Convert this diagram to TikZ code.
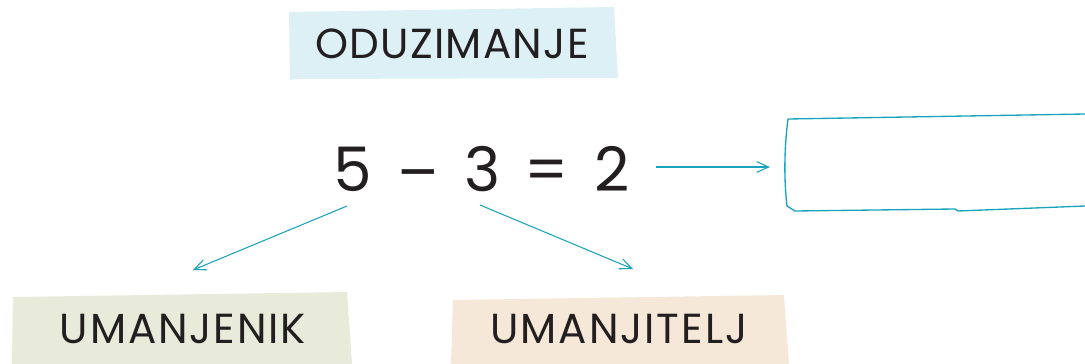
\documentclass[tikz,border=0pt]{standalone}
\usepackage{fontspec}
\setmainfont{Poppins}
\usetikzlibrary{arrows.meta}
\definecolor{tealc}{HTML}{1AA3BC}
\definecolor{blueb}{HTML}{DDF0F6}
\definecolor{greenb}{HTML}{E8EBDA}
\definecolor{peachb}{HTML}{F6E8D8}
\definecolor{ink}{HTML}{231F20}
\begin{document}
\begin{tikzpicture}[x=0.75pt,y=-0.75pt,
  lbl/.style={anchor=base, inner sep=0pt, text=ink, font=\fontsize{31.5}{34}\selectfont\addfontfeatures{LetterSpace=3}},
  lblb/.style={lbl, font=\fontsize{31.5}{34}\selectfont\addfontfeatures{LetterSpace=4.5}},
  eqtxt/.style={anchor=base, inner sep=0pt, text=ink, font=\fontsize{46}{50}\selectfont},
  conn/.style={draw=tealc, line width=0.8pt, -{Straight Barb[length=9pt,width=8pt,line width=0.8pt]}}]
\useasboundingbox (0,0) rectangle (1085,364);
% label backgrounds
\fill[blueb] (289,12) -- (614,7) -- (618,78) -- (300,79) -- (290,80) -- cycle;
\fill[greenb] (13,297) -- (347,292) -- (352,364) -- (12,364) -- cycle;
\fill[peachb] (453,300) -- (784,295) -- (789,364) -- (451,364) -- cycle;
% texts
\node[lbl] (oduz) at (452,58) {ODUZIMANJE};
\node[lblb] (umanjenik) at (183,343) {UMANJENIK};
\node[lblb] (umanjitelj) at (619,343) {UMANJITELJ};
% equation
\node[eqtxt] (n5) at (353,191) {5};
\node[eqtxt] (minus) at (418,194) {–};
\node[eqtxt] (n3) at (483,191) {3};
\node[eqtxt] (eq) at (547,191) {=};
\node[eqtxt] (n2) at (612,191) {2};
% answer box
\draw[tealc, line width=1pt, line join=round] (1085,114) -- (788,119) .. controls (784,150) and (784,180) .. (787,206) -- (795,211) -- (955,209) -- (958,211) -- (1085,206);
% connector ends
\coordinate (s5) at (347,206);
\coordinate (e5) at (193,270);
\coordinate (s3) at (480,205);
\coordinate (e3) at (633,269);
\coordinate (s2) at (656,167);
\coordinate (e2) at (770,167);
\draw[conn] (s5) -- (e5);
\draw[conn] (s3) -- (e3);
\draw[conn] (s2) -- (e2);
\end{tikzpicture}
\end{document}
